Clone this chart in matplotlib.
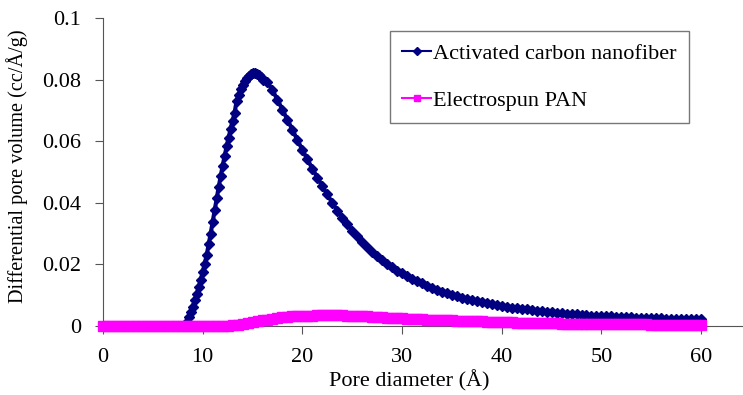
import numpy as np
import matplotlib
matplotlib.use("Agg")
import matplotlib.pyplot as plt

# === Data (pore diameter in Angstrom) ===
acf_x = np.concatenate([np.arange(0, 8.01, 0.5),      # flat part
                        np.arange(8.2, 16.01, 0.2),   # steep rise
                        np.arange(16.5, 60.01, 0.5)]) # decay
acf_y = [0.0] * 17 + [
    0.0000, 0.0012, 0.0028, 0.0045, 0.0063, 0.0083, 0.0104, 0.0126, 0.0150, 0.0175,
    0.0202, 0.0230, 0.0265, 0.0300, 0.0338, 0.0376, 0.0414, 0.0450, 0.0486, 0.0520,
    0.0552, 0.0583, 0.0612, 0.0640, 0.0667, 0.0692, 0.0730, 0.0750, 0.0768, 0.0783,
    0.0796, 0.0806, 0.0813, 0.0818, 0.0820, 0.0820, 0.0818, 0.0814, 0.0808, 0.0800,
] + [
    0.0792, 0.0765, 0.0735, 0.0702, 0.0670, 0.0637, 0.0604, 0.0572, 0.0541, 0.0511,
    0.0482, 0.0454, 0.0427, 0.0400, 0.0375, 0.0352, 0.0330, 0.0310, 0.0291, 0.0273,
    0.0256, 0.0241, 0.0227, 0.0214, 0.0202, 0.0191, 0.0180, 0.0171, 0.0162, 0.0154,
    0.0146, 0.0138, 0.0131, 0.0124, 0.0117, 0.0111, 0.0106, 0.0101, 0.0096, 0.0092,
    0.0088, 0.0084, 0.0080, 0.0077, 0.0074, 0.0071, 0.0068, 0.0065, 0.0063, 0.0060,
    0.0058, 0.0056, 0.0054, 0.0052, 0.0050, 0.0048, 0.0046, 0.0045, 0.0043, 0.0042,
    0.0040, 0.0039, 0.0038, 0.0036, 0.0035, 0.0034, 0.0033, 0.0032, 0.0031, 0.0031,
    0.0030, 0.0029, 0.0029, 0.0028, 0.0027, 0.0027, 0.0026, 0.0026, 0.0025, 0.0025,
    0.0024, 0.0024, 0.0023, 0.0023, 0.0023, 0.0022, 0.0022, 0.0022,
]

pan_x = np.arange(0, 60.01, 0.5)
pan_y = [0.0] * 25 + [
    0.0001, 0.0002, 0.0004, 0.0006, 0.0009, 0.0012, 0.0015, 0.0018, 0.0021, 0.0024,
    0.0026, 0.0028, 0.0030, 0.0031, 0.0032, 0.0033, 0.0034, 0.0034, 0.0035, 0.0035,
    0.0035, 0.0035, 0.0035, 0.0035, 0.0034, 0.0034, 0.0033, 0.0032, 0.0031, 0.0030,
    0.0029, 0.0028, 0.0027, 0.0026, 0.0026, 0.0025,
] + [
    0.0024, 0.0023, 0.0023, 0.0022, 0.0021, 0.0021, 0.0020, 0.0019, 0.0019, 0.0018,
    0.0017, 0.0017, 0.0016, 0.0016, 0.0015, 0.0015, 0.0014, 0.0014, 0.0013, 0.0013,
    0.0012, 0.0012, 0.0011, 0.0011, 0.0011, 0.0010, 0.0010, 0.0010, 0.0009, 0.0009,
    0.0009, 0.0008, 0.0008, 0.0008, 0.0008, 0.0007, 0.0007, 0.0007, 0.0007, 0.0006,
    0.0006, 0.0006, 0.0006, 0.0006, 0.0005, 0.0005, 0.0005, 0.0005, 0.0005, 0.0004,
    0.0004, 0.0004, 0.0004, 0.0004, 0.0004, 0.0003, 0.0003, 0.0003, 0.0003, 0.0003,
]

x_ticks = [0, 10, 20, 30, 40, 50, 60]
y_ticks = [0, 0.02, 0.04, 0.06, 0.08, 0.1]
y_tick_labels = ["0", "0.02", "0.04", "0.06", "0.08", "0.1"]

# === Figure ===
plt.rcParams["font.family"] = ["Liberation Serif", "DejaVu Serif"]

fig = plt.figure(figsize=(7.43, 3.95), dpi=100)
ax = fig.add_axes([103 / 743, 69 / 395, 639 / 743, 308 / 395])

ax.plot(acf_x, acf_y, color="#000080", lw=3, marker="D", ms=5.5,
        label="Activated carbon nanofiber", clip_on=False, zorder=3)
ax.plot(pan_x, pan_y, color="#FF00FF", lw=4, marker="s", ms=6.5,
        label="Electrospun PAN", clip_on=False, zorder=4)

ax.set_xlim(0, 64.1)
ax.set_ylim(0, 0.1)
ax.set_xticks(x_ticks)
ax.set_yticks(y_ticks)
ax.set_yticklabels(y_tick_labels)
ax.tick_params(labelsize=16, direction="out", length=6, color="#555555")
ax.tick_params(axis="x", pad=9.5)
ax.tick_params(axis="y", pad=10)

for side in ["top", "right"]:
    ax.spines[side].set_visible(False)
for side in ["left", "bottom"]:
    ax.spines[side].set_color("#555555")

ax.set_xlabel("Pore diameter (Å)", fontsize=16)
ax.set_ylabel("Differential pore volume (cc/Å/g)", fontsize=14.6)
ax.xaxis.set_label_coords(0.479, -0.143)
ax.yaxis.set_label_coords(-0.117, 0.518)

leg = ax.legend(loc="upper left", bbox_to_anchor=(390 / 743, 1 - 31 / 395),
                bbox_transform=fig.transFigure, borderaxespad=0, fontsize=16,
                frameon=True, fancybox=False, edgecolor="#555555",
                handlelength=1.3, handletextpad=0.08, labelspacing=1.2,
                borderpad=0.55, markerscale=0.7)
leg.get_frame().set_linewidth(1)
for line in leg.get_lines():
    line.set_linewidth(1.5)

fig.savefig("out.png", dpi=100)
